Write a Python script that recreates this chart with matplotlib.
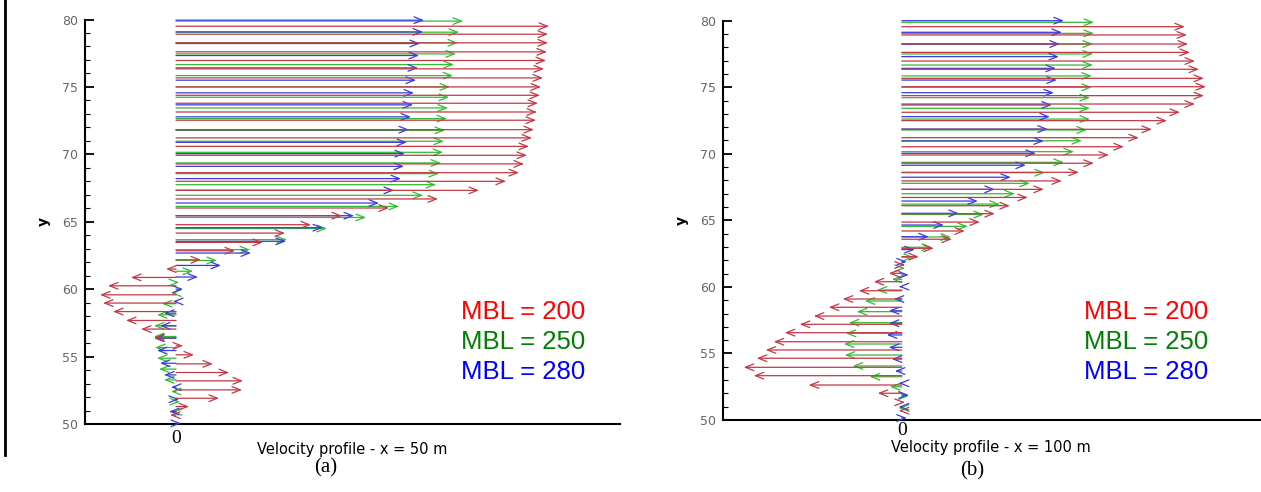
import matplotlib
matplotlib.use("Agg")
import matplotlib.pyplot as plt
from matplotlib.lines import Line2D
from matplotlib.ticker import MultipleLocator

plt.rcParams['font.family'] = ['Liberation Sans', 'DejaVu Sans']

# ---- panel (a): x = 50 m ----
red_a_y = [79.50, 78.91, 78.27, 77.60, 76.96, 76.34, 75.67, 75.00, 74.38, 73.79, 73.14, 72.53,
           71.83, 71.22, 70.59, 69.93, 69.29, 68.64, 68.00, 67.33, 66.69, 66.02, 65.45, 64.78,
           64.16, 63.47, 62.85, 62.18, 61.49, 60.87, 60.25, 59.58, 58.97, 58.34, 57.68, 57.04,
           56.40, 55.80, 55.13, 54.46, 53.82, 53.20, 52.53, 51.91, 51.29, 50.66]
red_a_u = [3.73, 3.72, 3.72, 3.71, 3.70, 3.68, 3.67, 3.65, 3.64, 3.62, 3.61, 3.60,
           3.58, 3.56, 3.53, 3.51, 3.48, 3.43, 3.30, 3.03, 2.62, 2.13, 1.66, 1.35,
           1.09, 0.87, 0.59, 0.25, -0.10, -0.45, -0.68, -0.76, -0.73, -0.63, -0.50, -0.35,
           -0.22, 0.07, 0.18, 0.37, 0.53, 0.67, 0.66, 0.43, 0.13, -0.06]

green_a_y = [79.88, 79.06, 78.27, 77.45, 76.66, 75.84, 75.00, 74.23, 73.44, 72.65, 71.78, 70.97,
             70.15, 69.36, 68.57, 67.75, 66.96, 66.14, 65.32, 64.50, 63.67, 62.93, 62.13, 61.33,
             60.50, 59.71, 58.92, 58.10, 57.28, 56.49, 55.67, 54.88, 54.07, 53.27, 52.41, 51.66,
             50.90]
green_a_u = [2.87, 2.83, 2.82, 2.80, 2.78, 2.77, 2.74, 2.73, 2.72, 2.71, 2.69, 2.68,
             2.67, 2.65, 2.63, 2.60, 2.47, 2.23, 1.90, 1.51, 1.11, 0.74, 0.41, 0.17,
             0.03, -0.05, -0.14, -0.19, -0.22, -0.22, -0.21, -0.19, -0.17, -0.12, -0.05, 0.04,
             -0.04]

blue_a_y = [79.95, 79.08, 78.22, 77.33, 76.41, 75.50, 74.56, 73.67, 72.78, 71.83, 70.89, 70.05,
            69.11, 68.20, 67.33, 66.39, 65.45, 64.56, 63.55, 62.68, 61.76, 60.90, 60.00, 59.09,
            58.22, 57.28, 56.36, 55.45, 54.51, 53.64, 52.73, 51.84, 50.92, 50.05]
blue_a_u = [2.48, 2.47, 2.44, 2.43, 2.42, 2.40, 2.38, 2.37, 2.35, 2.33, 2.31, 2.29,
            2.28, 2.25, 2.18, 2.03, 1.78, 1.47, 1.10, 0.75, 0.45, 0.22, 0.07, -0.03,
            -0.12, -0.16, -0.22, -0.19, -0.16, -0.12, -0.05, 0.03, -0.07, 0.05]

# ---- panel (b): x = 100 m ----
red_b_y = [79.55, 78.93, 78.25, 77.62, 76.97, 76.35, 75.67, 75.04, 74.37, 73.74, 73.12, 72.49,
           71.84, 71.21, 70.53, 69.91, 69.29, 68.61, 67.96, 67.33, 66.72, 66.10, 65.50, 64.87,
           64.20, 63.58, 62.90, 62.27, 61.65, 61.02, 60.39, 59.71, 59.09, 58.47, 57.81, 57.19,
           56.56, 55.88, 55.26, 54.64, 53.96, 53.33, 52.63, 52.01, 51.33, 50.70]
red_b_u = [2.83, 2.85, 2.86, 2.88, 2.93, 2.97, 3.02, 3.04, 3.02, 2.93, 2.78, 2.65,
           2.50, 2.37, 2.22, 2.07, 1.92, 1.77, 1.60, 1.42, 1.26, 1.08, 0.93, 0.78,
           0.63, 0.50, 0.32, 0.17, 0.03, -0.13, -0.28, -0.43, -0.59, -0.73, -0.88, -1.02,
           -1.17, -1.28, -1.36, -1.45, -1.58, -1.48, -0.93, -0.24, 0.03, -0.03]

green_b_y = [79.88, 79.05, 78.25, 77.50, 76.67, 75.85, 75.00, 74.22, 73.42, 72.61, 71.79, 70.98,
             70.16, 69.36, 68.58, 67.78, 67.00, 66.22, 65.44, 64.55, 63.75, 62.98, 62.23, 61.40,
             60.57, 59.77, 58.94, 58.14, 57.31, 56.51, 55.71, 54.88, 54.06, 53.25, 52.50, 51.80,
             50.90]
green_b_u = [1.92, 1.92, 1.91, 1.91, 1.91, 1.90, 1.90, 1.88, 1.88, 1.88, 1.85, 1.80,
             1.72, 1.62, 1.43, 1.28, 1.13, 0.98, 0.82, 0.66, 0.49, 0.30, 0.12, 0.03,
             -0.10, -0.25, -0.37, -0.45, -0.53, -0.56, -0.58, -0.57, -0.49, -0.32, -0.12, 0.07,
             -0.03]

blue_b_y = [80.00, 79.13, 78.25, 77.30, 76.42, 75.54, 74.59, 73.67, 72.79, 71.86, 70.96, 70.04,
            69.14, 68.24, 67.33, 66.45, 65.53, 64.65, 63.77, 62.80, 61.89, 60.90, 60.02, 59.09,
            58.21, 57.27, 56.39, 55.46, 54.58, 53.68, 52.76, 51.88, 50.99, 50.15]
blue_b_u = [1.62, 1.60, 1.58, 1.57, 1.54, 1.55, 1.52, 1.50, 1.48, 1.46, 1.42, 1.34,
            1.24, 1.09, 0.93, 0.76, 0.57, 0.42, 0.27, 0.13, 0.05, 0.07, -0.03, -0.08,
            -0.13, -0.13, -0.15, -0.13, -0.10, -0.07, -0.03, 0.07, -0.03, 0.05]

legend_labels = ["MBL = 200", "MBL = 250", "MBL = 280"]
legend_colors = ["#ff0000", "#008000", "#0000ff"]
arrow_colors = ["#c23845", "#33bb33", "#3a3ae0"]

SERIF = ['Liberation Serif', 'DejaVu Serif']
WIDE = ['DejaVu Sans']

W, H = 1261, 492
fig = plt.figure(figsize=(W / 100, H / 100), dpi=100)


def arrows(ax, ys, us, color):
    for y, u in zip(ys, us):
        ax.annotate('', xy=(u, y), xytext=(0, y),
                    arrowprops=dict(arrowstyle='->,head_length=0.6,head_width=0.24',
                                    color=color, lw=0.9, shrinkA=0, shrinkB=0),
                    annotation_clip=False)


def setup(ax, xlim, label, pad0, lab_y):
    ax.set_xlim(*xlim)
    ax.set_ylim(50, 80)
    for s in ['top', 'right']:
        ax.spines[s].set_visible(False)
    ax.spines['left'].set_linewidth(1.5)
    ax.spines['bottom'].set_linewidth(1.5)
    ax.yaxis.set_major_locator(MultipleLocator(5))
    ax.yaxis.set_minor_locator(MultipleLocator(1))
    ax.tick_params(axis='y', which='major', direction='in', length=6.5, width=1.3,
                   labelsize=9, labelcolor='#666666', pad=5)
    ax.tick_params(axis='y', which='minor', direction='in', length=3.4, width=0.8)
    for t in ax.get_yticklabels():
        t.set_family(WIDE)
    ax.set_xticks([0])
    ax.set_xticklabels(['0'], family=SERIF, fontsize=14)
    ax.tick_params(axis='x', length=0, pad=pad0)
    ax.set_ylabel('y', fontsize=10, fontweight='bold', labelpad=8, family=WIDE)
    ax.set_xlabel(label, fontsize=10.5, family=WIDE)
    ax.xaxis.set_label_coords(0.5, lab_y)


# panel (a)
ax1 = fig.add_axes([85 / W, 1 - 424 / H, 535 / W, 404.5 / H])
setup(ax1, (-0.91, 4.44), "Velocity profile - x = 50 m", 4, -0.045)
arrows(ax1, green_a_y, green_a_u, arrow_colors[1])
arrows(ax1, blue_a_y, blue_a_u, arrow_colors[2])
arrows(ax1, red_a_y, red_a_u, arrow_colors[0])

# panel (b)
ax2 = fig.add_axes([722.7 / W, 1 - 420 / H, 537.3 / W, 399.3 / H])
setup(ax2, (-1.79, 3.58), "Velocity profile - x = 100 m", 1.5, -0.05)
arrows(ax2, green_b_y, green_b_u, arrow_colors[1])
arrows(ax2, blue_b_y, blue_b_u, arrow_colors[2])
arrows(ax2, red_b_y, red_b_u, arrow_colors[0])

# legend texts
for x0 in [461, 1084]:
    for i, (t, c) in enumerate(zip(legend_labels, legend_colors)):
        fig.text(x0 / W, 1 - (312 + 30 * i) / H, t, color=c, fontsize=18.5,
                 ha='left', va='center')

fig.text(326 / W, 1 - 468 / H, '(a)', family=SERIF, fontsize=15, ha='center', va='center')
fig.text(972 / W, 1 - 471 / H, '(b)', family=SERIF, fontsize=15, ha='center', va='center')

# vertical rule at the far left
fig.add_artist(Line2D([4.7 / W, 4.7 / W], [1, 1 - 455 / H], color='black', lw=2))

fig.savefig('out.png', dpi=100)
